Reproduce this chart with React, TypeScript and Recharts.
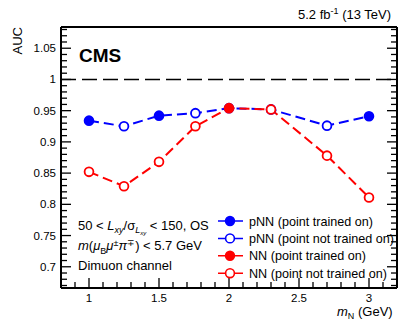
import { LineChart, Line, XAxis, YAxis, ReferenceLine } from 'recharts';

// N mass points (GeV) and AUC values
const masses = [1, 1.25, 1.5, 1.76, 2, 2.3, 2.7, 3];
const aucPnn = [0.934, 0.925, 0.942, 0.946, 0.954, 0.952, 0.926, 0.941];
const trainedPnn = [true, false, true, false, true, false, false, true];
const aucNn = [0.852, 0.829, 0.868, 0.925, 0.954, 0.952, 0.878, 0.811];
const trainedNn = [false, false, false, false, true, false, false, false];

const xMajorTicks = [1, 1.5, 2, 2.5, 3];
const xMajorLabels = ['1', '1.5', '2', '2.5', '3'];
const yMajorTicks = [0.7, 0.75, 0.8, 0.85, 0.9, 0.95, 1, 1.05];
const yMajorLabels = ['0.7', '0.75', '0.8', '0.85', '0.9', '0.95', '1', '1.05'];

const X_DOMAIN: [number, number] = [0.8, 3.2];
const Y_DOMAIN: [number, number] = [0.666, 1.084];

const W = 399;
const H = 320;
const PLOT = { left: 61, right: 397, top: 27, bottom: 288 };
const AX = { bottom: 28, left: 50, top: 6, right: 2 };
const FONT = '"Liberation Sans", Arial, sans-serif';
const BLUE = '#0000ff';
const RED = '#ff0000';

// minor tick positions, one step apart, inside the domain
function minorTicks(lo: number, hi: number, step: number) {
  const out: number[] = [];
  const start = Math.ceil(lo / step - 1e-6);
  const end = Math.floor(hi / step + 1e-6);
  for (let i = start; i <= end; i++) out.push(Math.round(i * step * 1000) / 1000);
  return out;
}
const xTicks = minorTicks(X_DOMAIN[0], X_DOMAIN[1], 0.1);
const yTicks = minorTicks(Y_DOMAIN[0], Y_DOMAIN[1], 0.01);

function majorIndex(v: number, majors: number[]) {
  return majors.findIndex((m) => Math.abs(m - v) < 1e-6);
}

const pnnData = masses.map((m, i) => ({ m, auc: aucPnn[i], trained: trainedPnn[i] }));
const nnData = masses.map((m, i) => ({ m, auc: aucNn[i], trained: trainedNn[i] }));

const tickText = { fontFamily: FONT, fontSize: 11.5, fill: '#000' };

function BottomTick(props: any) {
  const { x, payload } = props;
  const k = majorIndex(payload.value, xMajorTicks);
  const len = k >= 0 ? 10 : 6;
  return (
    <g>
      <line x1={x} x2={x} y1={PLOT.bottom} y2={PLOT.bottom - len} stroke="#000" strokeWidth={1.3} />
      {k >= 0 && (
        <text x={x} y={PLOT.bottom + 14} textAnchor="middle" {...tickText}>
          {xMajorLabels[k]}
        </text>
      )}
    </g>
  );
}

function TopTick(props: any) {
  const { x, payload } = props;
  const len = majorIndex(payload.value, xMajorTicks) >= 0 ? 10 : 6;
  return <line x1={x} x2={x} y1={PLOT.top} y2={PLOT.top + len} stroke="#000" strokeWidth={1.3} />;
}

function LeftTick(props: any) {
  const { y, payload } = props;
  const k = majorIndex(payload.value, yMajorTicks);
  const len = k >= 0 ? 10 : 6;
  return (
    <g>
      <line x1={PLOT.left} x2={PLOT.left + len} y1={y} y2={y} stroke="#000" strokeWidth={1.3} />
      {k >= 0 && (
        <text x={PLOT.left - 5} y={y + 4} textAnchor="end" {...tickText}>
          {yMajorLabels[k]}
        </text>
      )}
    </g>
  );
}

function RightTick(props: any) {
  const { y, payload } = props;
  const len = majorIndex(payload.value, yMajorTicks) >= 0 ? 10 : 6;
  return <line x1={PLOT.right} x2={PLOT.right - len} y1={y} y2={y} stroke="#000" strokeWidth={1.3} />;
}

const makeDot = (color: string) => (props: any) => {
  const { cx, cy, payload, index } = props;
  return (
    <circle
      key={`d-${color}-${index}`}
      cx={cx}
      cy={cy}
      r={4.4}
      fill={payload.trained ? color : '#fff'}
      stroke={color}
      strokeWidth={1.8}
    />
  );
};

const legendRows = [
  { label: 'pNN (point trained on)', color: BLUE, filled: true },
  { label: 'pNN (point not trained on)', color: BLUE, filled: false },
  { label: 'NN (point trained on)', color: RED, filled: true },
  { label: 'NN (point not trained on)', color: RED, filled: false },
];

export default function App() {
  const txt = { fontFamily: FONT, fill: '#000' };
  return (
    <div style={{ position: 'absolute', left: 0, top: 0, width: W, height: H, background: '#fff' }}>
      <LineChart
        width={W}
        height={H}
        margin={{
          top: PLOT.top - AX.top,
          right: W - PLOT.right - AX.right,
          bottom: H - PLOT.bottom - AX.bottom,
          left: PLOT.left - AX.left,
        }}
      >
        <XAxis
          xAxisId="b"
          dataKey="m"
          type="number"
          domain={X_DOMAIN}
          allowDataOverflow
          ticks={xTicks}
          interval={0}
          height={AX.bottom}
          tickSize={0}
          tickMargin={0}
          tick={<BottomTick />}
          tickLine={false}
          axisLine={{ stroke: '#000', strokeWidth: 2 }}
        />
        <XAxis
          xAxisId="t"
          orientation="top"
          type="number"
          domain={X_DOMAIN}
          allowDataOverflow
          ticks={xTicks}
          interval={0}
          height={AX.top}
          tickSize={0}
          tick={<TopTick />}
          tickLine={false}
          axisLine={{ stroke: '#000', strokeWidth: 2 }}
        />
        <YAxis
          yAxisId="l"
          type="number"
          domain={Y_DOMAIN}
          allowDataOverflow
          ticks={yTicks}
          interval={0}
          width={AX.left}
          tickSize={0}
          tickMargin={0}
          tick={<LeftTick />}
          tickLine={false}
          axisLine={{ stroke: '#000', strokeWidth: 2 }}
        />
        <YAxis
          yAxisId="r"
          orientation="right"
          type="number"
          domain={Y_DOMAIN}
          allowDataOverflow
          ticks={yTicks}
          interval={0}
          width={AX.right}
          tickSize={0}
          tick={<RightTick />}
          tickLine={false}
          axisLine={{ stroke: '#000', strokeWidth: 2 }}
        />
        <ReferenceLine
          xAxisId="b"
          yAxisId="l"
          y={1}
          stroke="#000"
          strokeWidth={1.5}
          strokeDasharray="15 6"
        />
        <Line
          xAxisId="b"
          yAxisId="l"
          data={pnnData}
          dataKey="auc"
          stroke={BLUE}
          strokeWidth={2}
          strokeDasharray="10 5"
          dot={makeDot(BLUE)}
          isAnimationActive={false}
        />
        <Line
          xAxisId="b"
          yAxisId="l"
          data={nnData}
          dataKey="auc"
          stroke={RED}
          strokeWidth={2}
          strokeDasharray="10 5"
          dot={makeDot(RED)}
          isAnimationActive={false}
        />
      </LineChart>

      <svg
        width={W}
        height={H}
        style={{ position: 'absolute', left: 0, top: 0, pointerEvents: 'none' }}
      >
        <text transform="translate(22,27) rotate(-90)" textAnchor="end" fontSize={13} {...txt}>
          AUC
        </text>
        <text x={79} y={62} fontSize={19} fontWeight="bold" {...txt}>
          CMS
        </text>
        <text x={298} y={19} fontSize={13} {...txt}>
          5.2 fb
          <tspan fontSize={9} dy={-5}>-1</tspan>
          <tspan dy={5}> (13 TeV)</tspan>
        </text>
        <text x={337} y={316} fontSize={13} {...txt}>
          <tspan fontStyle="italic">m</tspan>
          <tspan fontSize={9} dy={3}>N</tspan>
          <tspan dy={-3}> (GeV)</tspan>
        </text>

        <text x={78} y={230} fontSize={13} {...txt}>
          50 &lt; <tspan fontStyle="italic">L</tspan>
          <tspan fontSize={9} fontStyle="italic" dy={3}>xy</tspan>
          <tspan dy={-3}>/σ</tspan>
          <tspan fontSize={9} fontStyle="italic" dy={3}>L</tspan>
          <tspan fontSize={6} fontStyle="italic" dy={2}>xy</tspan>
          <tspan dy={-5}> &lt; 150, OS</tspan>
        </text>
        <text x={78} y={250} fontSize={13} {...txt}>
          <tspan fontStyle="italic">m</tspan>(<tspan fontStyle="italic">μ</tspan>
          <tspan fontSize={9} dy={4}>B</tspan>
          <tspan fontStyle="italic" dy={-4}>μ</tspan>
          <tspan fontSize={9} dy={-4}>±</tspan>
          <tspan fontStyle="italic" dy={4}>π</tspan>
          <tspan fontSize={9} dy={-4}>∓</tspan>
          <tspan dy={4}>) &lt; 5.7 GeV</tspan>
        </text>
        <text x={78} y={270} fontSize={13} {...txt}>
          Dimuon channel
        </text>

        {legendRows.map((r, i) => {
          const cy = 221 + i * 17.4;
          return (
            <g key={r.label}>
              <line x1={218} x2={243} y1={cy} y2={cy} stroke={r.color} strokeWidth={1.5} strokeDasharray="10 5" />
              <circle cx={230} cy={cy} r={4.4} fill={r.filled ? r.color : '#fff'} stroke={r.color} strokeWidth={1.6} />
              <text x={249} y={cy + 4.5} fontSize={12.6} {...txt}>
                {r.label}
              </text>
            </g>
          );
        })}
      </svg>
    </div>
  );
}
